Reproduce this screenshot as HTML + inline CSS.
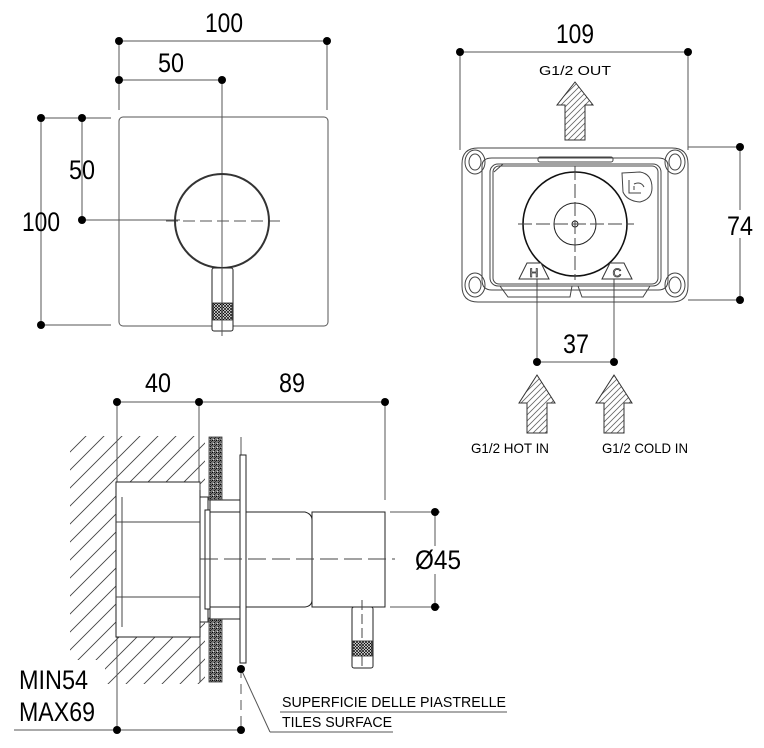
<!DOCTYPE html>
<html><head><meta charset="utf-8"><style>
html,body{margin:0;padding:0;background:#fff;}
svg{display:block;}
text{font-family:"Liberation Sans",sans-serif;fill:#000;}
</style></head><body>
<svg width="764" height="748" viewBox="0 0 764 748" xmlns="http://www.w3.org/2000/svg">
<defs>
<pattern id="wh" width="18" height="18" patternUnits="userSpaceOnUse">
<path d="M0 18 L18 0 M-2 2 L2 -2 M16 20 L20 16" stroke="#444" stroke-width="0.9"/>
</pattern>
<pattern id="ah" width="6" height="6" patternUnits="userSpaceOnUse">
<path d="M0 6 L6 0 M-1 1 L1 -1 M5 7 L7 5" stroke="#666" stroke-width="0.8"/>
</pattern>
<pattern id="kn" width="3" height="3" patternUnits="userSpaceOnUse">
<rect width="3" height="3" fill="#fff"/><path d="M0 0L3 3M3 0L0 3" stroke="#000" stroke-width="0.7"/>
</pattern>
<pattern id="tl" width="4" height="4" patternUnits="userSpaceOnUse">
<rect width="4" height="4" fill="#777"/><rect x="0" y="0" width="1" height="1" fill="#000"/><rect x="2" y="2" width="1" height="1" fill="#111"/><rect x="3" y="1" width="1" height="1" fill="#333"/><rect x="1" y="3" width="1" height="1" fill="#ddd"/><rect x="2" y="0" width="1" height="1" fill="#222"/>
</pattern>
</defs>

<g stroke="#555" stroke-width="1" fill="none">
<line x1="119" y1="41" x2="327" y2="41"/>
<line x1="119" y1="80" x2="222" y2="80"/>
<line x1="119" y1="41" x2="119" y2="110"/>
<line x1="327" y1="41" x2="327" y2="110"/>
<line x1="222" y1="80" x2="222" y2="336"/>
<line x1="41" y1="118" x2="41" y2="325"/>
<line x1="82" y1="118" x2="82" y2="220"/>
<line x1="41" y1="118" x2="111" y2="118"/>
<line x1="41" y1="325" x2="111" y2="325"/>
<line x1="82" y1="220" x2="180" y2="220"/>
<line x1="166" y1="221" x2="280" y2="221" stroke-dasharray="12,5"/>
<rect x="119" y="117" width="209" height="209" rx="4"/>
</g>
<circle cx="222" cy="221" r="47" stroke="#333" stroke-width="2" fill="none"/>
<line x1="222" y1="160" x2="222" y2="268" stroke="#555" stroke-dasharray="12,5"/>
<rect x="212" y="268" width="21" height="63" rx="2" fill="#fff" stroke="#222"/>
<rect x="213" y="303" width="19" height="17" fill="url(#kn)" stroke="#222" stroke-width="0.8"/>
<line x1="222" y1="268" x2="222" y2="336" stroke="#555"/>
<g fill="#000">
<circle cx="119" cy="41" r="4"/><circle cx="327" cy="41" r="4"/>
<circle cx="119" cy="80" r="4"/><circle cx="222" cy="80" r="4"/>
<circle cx="41" cy="118" r="4"/><circle cx="82" cy="118" r="4"/>
<circle cx="41" cy="325" r="4"/><circle cx="82" cy="220" r="4"/>
</g>
<text x="224" y="32" font-size="27" text-anchor="middle" textLength="38" lengthAdjust="spacingAndGlyphs">100</text>
<text x="171" y="72" font-size="27" text-anchor="middle" textLength="26" lengthAdjust="spacingAndGlyphs">50</text>
<text x="82" y="179" font-size="27" text-anchor="middle" textLength="26" lengthAdjust="spacingAndGlyphs">50</text>
<text x="41" y="231" font-size="27" text-anchor="middle" textLength="38" lengthAdjust="spacingAndGlyphs">100</text>

<g stroke="#555" stroke-width="1" fill="none">
<line x1="460" y1="52" x2="688" y2="52"/>
<line x1="460" y1="52" x2="460" y2="150"/>
<line x1="688" y1="52" x2="688" y2="150"/>
<line x1="688" y1="147" x2="740" y2="147"/>
<line x1="688" y1="300" x2="740" y2="300"/>
<line x1="740" y1="147" x2="740" y2="300"/>
<line x1="537" y1="270" x2="537" y2="362"/>
<line x1="614" y1="270" x2="614" y2="362"/>
<line x1="537" y1="362" x2="614" y2="362"/>
</g>
<g fill="#000">
<circle cx="460" cy="52" r="4"/><circle cx="688" cy="52" r="4"/>
<circle cx="740" cy="147" r="4"/><circle cx="740" cy="300" r="4"/>
<circle cx="537" cy="362" r="4"/><circle cx="614" cy="362" r="4"/>
</g>
<rect x="724" y="210" width="32" height="28" fill="#fff"/>
<text x="575" y="43" font-size="27" text-anchor="middle" textLength="38" lengthAdjust="spacingAndGlyphs">109</text>
<text x="740" y="235" font-size="27" text-anchor="middle" textLength="26" lengthAdjust="spacingAndGlyphs">74</text>
<text x="576" y="353" font-size="27" text-anchor="middle" textLength="26" lengthAdjust="spacingAndGlyphs">37</text>
<text x="575" y="75" font-size="13" text-anchor="middle" textLength="72" lengthAdjust="spacingAndGlyphs">G1/2 OUT</text>
<text x="510" y="453" font-size="14" text-anchor="middle" textLength="78" lengthAdjust="spacingAndGlyphs">G1/2 HOT IN</text>
<text x="645" y="453" font-size="14" text-anchor="middle" textLength="86" lengthAdjust="spacingAndGlyphs">G1/2 COLD IN</text>
<g stroke="#333" stroke-width="1" fill="url(#ah)">
<path d="M575 82 L593 105 L585 105 L585 140 L565 140 L565 105 L557 105 Z"/>
<path d="M537 375 L555 403 L547 403 L547 433 L527 433 L527 403 L519 403 Z"/>
<path d="M614 375 L632 403 L624 403 L624 433 L604 433 L604 403 L596 403 Z"/>
</g>
<g stroke="#444" stroke-width="1" fill="none">
<path d="M478 148 L672 148 Q688 148 688 164 L688 286 Q688 302 672 302 L478 302 Q462 302 462 286 L462 164 Q462 148 478 148 Z"/>
<path d="M492 158 Q482 158 482 166 L482 280 Q482 290 492 290 L658 290 Q668 290 668 280 L668 166 Q668 158 658 158 Z"/>
<rect x="490" y="164" width="171" height="122" rx="8"/>
<rect x="493" y="166" width="165" height="118" rx="6"/>
<ellipse cx="475" cy="162" rx="10" ry="12"/><ellipse cx="475" cy="162" rx="6" ry="8"/>
<ellipse cx="675" cy="162" rx="10" ry="12"/><ellipse cx="675" cy="162" rx="6" ry="8"/>
<ellipse cx="475" cy="285" rx="10" ry="12"/><ellipse cx="475" cy="285" rx="6" ry="8"/>
<ellipse cx="675" cy="285" rx="10" ry="12"/><ellipse cx="675" cy="285" rx="6" ry="8"/>
<rect x="538" y="157" width="75" height="5" rx="2"/>
<path d="M500 286 L572 286 L570 297 L508 297 Z"/>
<path d="M578 286 L650 286 L643 297 L582 297 Z"/>
<line x1="494" y1="172" x2="503" y2="164"/>
<path d="M622 173 L640 172 Q652 174 652 188 Q652 199 640 202 Q627 201 623 192 Z"/>
<path d="M629 180 L629 193 L641 193 M634 186 L634 190 M634 184 Q641 181 644 187"/>
</g>
<circle cx="575" cy="224" r="52" stroke="#111" stroke-width="1.6" fill="none"/>
<circle cx="575" cy="224" r="21" stroke="#222" fill="none"/>
<circle cx="575" cy="224" r="3" stroke="#222" fill="none"/>
<line x1="575" y1="166" x2="575" y2="280" stroke="#444" stroke-dasharray="14,4"/>
<line x1="518" y1="224" x2="634" y2="224" stroke="#444" stroke-dasharray="14,4"/>
<path d="M519 279 L527 263 L541 263 L549 279 Z" fill="#fff" stroke="#333"/>
<path d="M602 279 L610 263 L624 263 L632 279 Z" fill="#fff" stroke="#333"/>
<text x="534" y="277" font-size="12" text-anchor="middle" stroke="#333" stroke-width="0.8" style="fill:#fff">H</text>
<text x="617" y="277" font-size="12" text-anchor="middle" stroke="#333" stroke-width="0.8" style="fill:#fff">C</text>
<line x1="537" y1="280" x2="537" y2="300" stroke="#444"/>
<line x1="614" y1="280" x2="614" y2="300" stroke="#444"/>

<path d="M70 436 L205 436 L205 684 L70 684 Z M116 482 L116 637 L200 637 L200 482 Z" fill="url(#wh)" fill-rule="evenodd"/>
<rect x="60" y="660" width="45" height="30" fill="#fff"/>
<rect x="60" y="420" width="20" height="16" fill="#fff"/>
<g stroke="#555" stroke-width="1" fill="none">
<line x1="117" y1="402" x2="385" y2="402"/>
<line x1="117" y1="402" x2="117" y2="730"/>
<line x1="199" y1="402" x2="199" y2="490"/>
<line x1="385" y1="402" x2="385" y2="500"/>
<line x1="14" y1="730" x2="241" y2="730"/>
<line x1="241" y1="437" x2="241" y2="455"/>
<line x1="241" y1="668" x2="241" y2="730" stroke-dasharray="10,6"/>
<line x1="241" y1="669" x2="270" y2="732"/>
<line x1="270" y1="732" x2="393" y2="732"/>
<line x1="280" y1="712" x2="507" y2="712"/>
<line x1="390" y1="512" x2="440" y2="512"/>
<line x1="390" y1="607" x2="440" y2="607"/>
<line x1="435" y1="512" x2="435" y2="607"/>
</g>
<rect x="209" y="437" width="13" height="63" fill="url(#tl)" stroke="#333" stroke-width="0.8"/>
<rect x="209" y="618" width="13" height="64" fill="url(#tl)" stroke="#333" stroke-width="0.8"/>
<g stroke="#222" stroke-width="1" fill="#fff">
<rect x="116" y="482" width="84" height="155"/>
<rect x="200" y="497" width="8" height="125"/>
<rect x="205" y="510" width="5" height="99"/>
<rect x="210" y="500" width="34" height="119"/>
<rect x="210" y="512" width="34" height="95"/>
<path d="M246 512 L305 512 Q312 514 312 520 L312 600 Q312 606 305 607 L246 607 Z"/>
<rect x="312" y="512" width="73" height="95"/>
<rect x="240" y="455" width="6" height="208"/>
<rect x="352" y="607" width="21" height="61" rx="2"/>
</g>
<line x1="122" y1="497" x2="122" y2="627" stroke="#444"/>
<line x1="116" y1="522" x2="200" y2="522" stroke="#444"/>
<line x1="116" y1="597" x2="200" y2="597" stroke="#444"/>
<line x1="200" y1="490" x2="200" y2="482" stroke="#444"/>
<line x1="200" y1="637" x2="200" y2="682" stroke="#444"/>
<rect x="353" y="641" width="19" height="15" fill="url(#kn)" stroke="#222" stroke-width="0.8"/>
<line x1="362" y1="600" x2="362" y2="668" stroke="#444" stroke-dasharray="10,4"/>
<line x1="200" y1="559" x2="395" y2="559" stroke="#444" stroke-dasharray="18,6"/>
<g fill="#000">
<circle cx="117" cy="402" r="4"/><circle cx="199" cy="402" r="4"/><circle cx="385" cy="402" r="4"/>
<circle cx="435" cy="512" r="4"/><circle cx="435" cy="607" r="4"/>
<circle cx="241" cy="669" r="4"/><circle cx="117" cy="730" r="4"/><circle cx="241" cy="730" r="4"/>
</g>
<rect x="414" y="546" width="48" height="28" fill="#fff"/>
<text x="158" y="392" font-size="27" text-anchor="middle" textLength="26" lengthAdjust="spacingAndGlyphs">40</text>
<text x="292" y="392" font-size="27" text-anchor="middle" textLength="26" lengthAdjust="spacingAndGlyphs">89</text>
<text x="438" y="569" font-size="27" text-anchor="middle" textLength="46" lengthAdjust="spacingAndGlyphs">Ø45</text>
<text x="19" y="689" font-size="27" textLength="69" lengthAdjust="spacingAndGlyphs">MIN54</text>
<text x="19" y="721" font-size="27" textLength="76" lengthAdjust="spacingAndGlyphs">MAX69</text>
<text x="282" y="707" font-size="15" textLength="224" lengthAdjust="spacingAndGlyphs">SUPERFICIE DELLE PIASTRELLE</text>
<text x="282" y="727" font-size="15" textLength="110" lengthAdjust="spacingAndGlyphs">TILES SURFACE</text>
</svg>
</body></html>
